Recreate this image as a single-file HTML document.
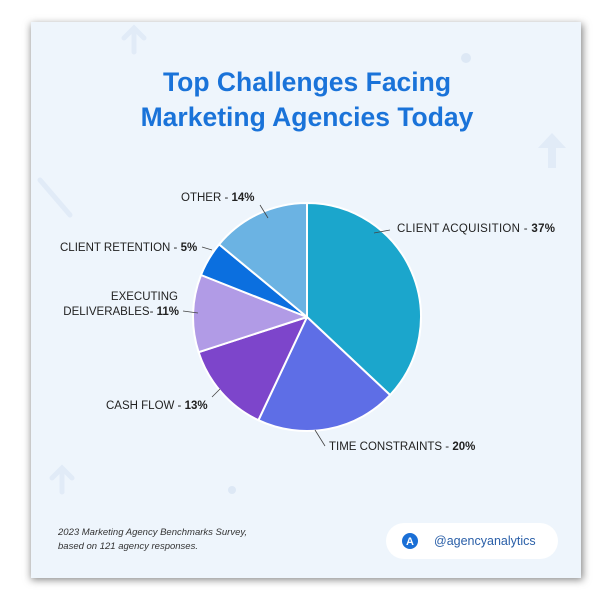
<!DOCTYPE html>
<html><head><meta charset="utf-8"><style>
body{margin:0;width:609px;height:600px;background:#fff;overflow:hidden;font-family:"Liberation Sans",sans-serif}
</style></head><body>
<svg width="609" height="600" viewBox="0 0 609 600" xmlns="http://www.w3.org/2000/svg">
<defs><filter id="sh" x="-10%" y="-10%" width="120%" height="120%"><feGaussianBlur stdDeviation="4"/></filter></defs>
<rect x="31" y="24" width="552" height="556" fill="#888" filter="url(#sh)"/>
<rect x="31" y="22" width="550" height="556" fill="#eef5fc"/>
<g fill="none" stroke="#e1ebf7" stroke-width="5" stroke-linecap="round">
<path d="M134 52 L134 30 M124 38 L134 28 L144 38"/>
<path d="M40 180 L70 215"/>
<path d="M62 492 L62 468 M52 478 L62 468 L72 478"/>
</g>
<path d="M548 168 L548 148 L538 148 L552 133 L566 148 L556 148 L556 168 Z" fill="#e1ebf7"/>
<circle cx="466" cy="58" r="5" fill="#dde8f5"/>
<circle cx="232" cy="490" r="4" fill="#dde8f5"/>
<text x="307" y="91" text-anchor="middle" font-size="26.5" font-weight="bold" fill="#1a73d9">Top Challenges Facing</text>
<text x="307" y="126" text-anchor="middle" font-size="26.5" font-weight="bold" fill="#1a73d9">Marketing Agencies Today</text>
<g stroke="#fff" stroke-width="2" stroke-linejoin="round">
<path d="M307 317 L307 203 A114 114 0 0 1 390.1 395 Z" fill="#1ba6cc"/>
<path d="M307 317 L390.1 395 A114 114 0 0 1 258.4 420.2 Z" fill="#5e6ee6"/>
<path d="M307 317 L258.4 420.2 A114 114 0 0 1 198.6 352.2 Z" fill="#7d45cb"/>
<path d="M307 317 L198.6 352.2 A114 114 0 0 1 201 275 Z" fill="#b19be6"/>
<path d="M307 317 L201 275 A114 114 0 0 1 219.1 244.4 Z" fill="#0b6fdf"/>
<path d="M307 317 L219.1 244.4 A114 114 0 0 1 307 203 Z" fill="#6bb3e3"/>
</g>
<g stroke="#444" stroke-width="0.8">
<line x1="260" y1="205" x2="268" y2="218"/>
<line x1="390" y1="230" x2="374" y2="233"/>
<line x1="202" y1="247" x2="212" y2="250"/>
<line x1="183" y1="311" x2="198" y2="313"/>
<line x1="212" y1="397" x2="220" y2="389"/>
<line x1="325" y1="446" x2="315" y2="430"/>
</g>
<g font-size="11.5" fill="#222">
<text x="181" y="201">OTHER - <tspan font-weight="bold">14%</tspan></text>
<text x="397" y="232" textLength="158">CLIENT ACQUISITION - <tspan font-weight="bold">37%</tspan></text>
<text x="60" y="251">CLIENT RETENTION - <tspan font-weight="bold">5%</tspan></text>
<text x="178" y="300" text-anchor="end">EXECUTING</text>
<text x="179" y="315" text-anchor="end">DELIVERABLES- <tspan font-weight="bold">11%</tspan></text>
<text x="106" y="409">CASH FLOW - <tspan font-weight="bold">13%</tspan></text>
<text x="329" y="450">TIME CONSTRAINTS - <tspan font-weight="bold">20%</tspan></text>
</g>
<g font-size="9.5" font-style="italic" fill="#333">
<text x="58" y="535">2023 Marketing Agency Benchmarks Survey,</text>
<text x="58" y="549">based on 121 agency responses.</text>
</g>
<rect x="386" y="523" width="172" height="36" rx="18" fill="#fff"/>
<circle cx="410" cy="541" r="8" fill="#1a6fd6"/>
<text x="410" y="545" text-anchor="middle" font-size="11" font-weight="bold" fill="#fff">A</text>
<text x="434" y="545" font-size="12.5" fill="#2a5fa8">@agencyanalytics</text>
</svg>
</body></html>
